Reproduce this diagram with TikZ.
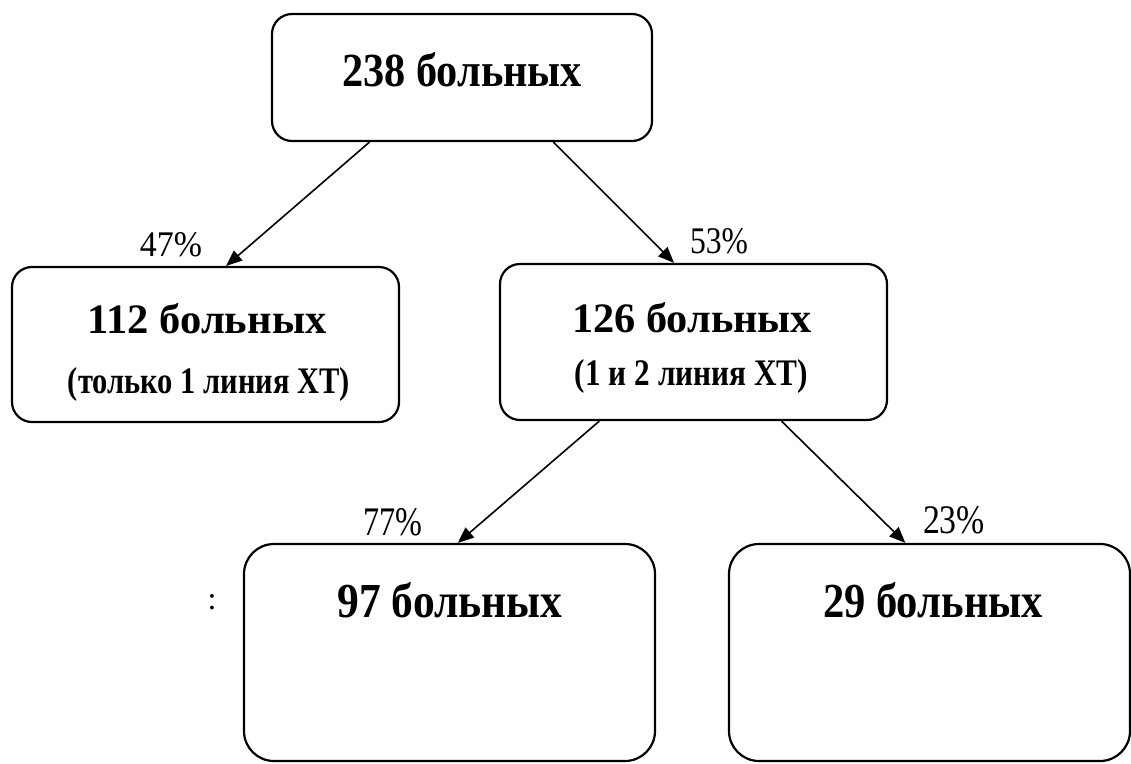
\documentclass[tikz,border=0pt]{standalone}
\usepackage{fontspec}
\setmainfont{Liberation Serif}
\usetikzlibrary{calc,arrows.meta}
\begin{document}
\begin{tikzpicture}[x=1pt,y=-1pt,
  box/.style={draw=black, line width=2.2pt, rounded corners=#1, inner sep=0pt, fill=none},
  box/.default=20pt,
  lbl/.style={anchor=base, inner sep=0pt},
  arr/.style={line width=1.6pt, -{Triangle[length=16pt,width=13pt]}}]
\useasboundingbox (0,0) rectangle (1131,763);
\fill[white] (0,0) rectangle (1131,763);
% boxes
\node[box, minimum width=380pt, minimum height=127pt] (top) at (462,77.5) {};
\node[box, minimum width=387pt, minimum height=155pt] (left) at (205.5,344.5) {};
\node[box, minimum width=387pt, minimum height=156pt] (mid) at (693.5,342) {};
\node[box=30pt, minimum width=411pt, minimum height=217pt] (bl) at (449.5,652.5) {};
\node[box=30pt, minimum width=401pt, minimum height=217pt] (br) at (929.5,652.5) {};
% texts
\node[lbl] (t1) at (462,86) {\resizebox{240pt}{34pt}{\bfseries 238 больных}};
\node[lbl] (t2) at (207,333) {\resizebox{239pt}{30pt}{\bfseries 112 больных}};
\node[lbl] (t3) at (209,393) {\resizebox{282pt}{26pt}{\bfseries (только 1 линия ХТ)}};
\node[lbl] (t4) at (692,332) {\resizebox{240pt}{30pt}{\bfseries 126 больных}};
\node[lbl] (t5) at (691.5,385) {\resizebox{233pt}{26pt}{\bfseries (1 и 2 линия ХТ)}};
\node[lbl] (t6) at (450,617) {\resizebox{225pt}{35pt}{\bfseries 97 больных}};
\node[lbl] (t7) at (933,617) {\resizebox{220pt}{35pt}{\bfseries 29 больных}};
\node[lbl, font=\fontsize{32}{32}\selectfont] (colon) at (212,609) {:};
% percents
\node[lbl] (p47) at (171,256) {\resizebox{62pt}{24pt}{47\%}};
\node[lbl] (p53) at (719,253) {\resizebox{58pt}{25pt}{53\%}};
\node[lbl] (p77) at (392.5,535) {\resizebox{59pt}{27pt}{77\%}};
\node[lbl] (p23) at (954,533) {\resizebox{62pt}{27pt}{23\%}};
% arrows
\draw[arr] ($(top.south west)!0.258!(top.south east)$) -- ($(left.north west)!0.553!(left.north east)$);
\draw[arr] ($(top.south west)!0.739!(top.south east)$) -- ($(mid.north west)!0.45!(mid.north east)$);
\draw[arr] ($(mid.south west)!0.258!(mid.south east)$) -- ($(bl.north west)!0.52!(bl.north east)$);
\draw[arr] ($(mid.south west)!0.726!(mid.south east)$) -- ($(br.north west)!0.44!(br.north east)$);
\end{tikzpicture}
\end{document}
